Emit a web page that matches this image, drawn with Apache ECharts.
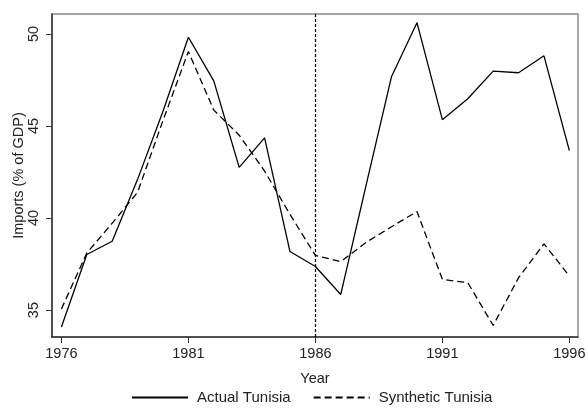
<!DOCTYPE html>
<html><head><meta charset="utf-8">
<script src="https://cdn.jsdelivr.net/npm/echarts@6/dist/echarts.min.js"></script>
<style>html,body{margin:0;padding:0;background:#fff}#c{width:588px;height:410px}</style>
</head><body><div id="c"></div>
<script>
const years = [1976,1977,1978,1979,1980,1981,1982,1983,1984,1985,1986,1987,1988,1989,1990,1991,1992,1993,1994,1995,1996];
const actual = [34.08,38.02,38.74,42.1,45.8,49.82,47.45,42.75,44.35,38.18,37.37,35.85,41.8,47.69,50.61,45.34,46.48,47.98,47.89,48.81,43.66];
const synthetic = [35.06,38.1,39.72,41.4,45.3,49.04,45.86,44.5,42.55,40.2,37.97,37.63,38.68,39.53,40.35,36.67,36.49,34.17,36.76,38.6,36.85];
const xTicks = [1976,1981,1986,1991,1996];
const yTicks = [35,40,45,50];
const treatYear = 1986;

const font = 'Liberation Sans, Arial, sans-serif';
const chart = echarts.init(document.getElementById('c'), null, {renderer:'canvas'});
chart.setOption({
  animation:false,
  backgroundColor:'#fff',
  grid:{left:52, right:10, top:14, bottom:73, show:true, borderColor:'#8a8a8a', borderWidth:1.5,
        containLabel:false, outerBoundsMode:'none'},
  legend:{
    left:126, top:385, itemWidth:56, itemHeight:14, itemGap:22,
    itemStyle:{opacity:0},
    textStyle:{fontFamily:font, fontSize:15, color:'#222', padding:[0,0,0,4]},
    data:['Actual Tunisia','Synthetic Tunisia']
  },
  xAxis:{
    type:'value', min:1975.63, max:1996.34,
    name:'Year', nameLocation:'middle', nameGap:34, nameMoveOverlap:false,
    nameTextStyle:{fontFamily:font, fontSize:14.5, color:'#222'},
    axisLine:{show:true, onZero:false, lineStyle:{color:'#333', width:1.5}},
    axisTick:{show:true, length:6, customValues:xTicks, lineStyle:{color:'#333'}},
    axisLabel:{customValues:xTicks, formatter:v=>String(v), fontFamily:font, fontSize:14.5, color:'#222', margin:9},
    splitLine:{show:false}
  },
  yAxis:{
    type:'value', min:33.54, max:51.08,
    name:'Imports (% of GDP)', nameLocation:'middle', nameGap:26, nameRotate:90, nameMoveOverlap:false,
    nameTextStyle:{fontFamily:font, fontSize:14.5, color:'#222'},
    axisLine:{show:true, onZero:false, lineStyle:{color:'#333', width:1.5}},
    axisTick:{show:true, length:6, customValues:yTicks, lineStyle:{color:'#333'}},
    axisLabel:{customValues:yTicks, formatter:v=>String(v), rotate:90, fontFamily:font, fontSize:14.5, color:'#222', margin:11},
    splitLine:{show:false}
  },
  series:[
    {name:'Actual Tunisia', type:'line', symbol:'none', data:years.map((y,i)=>[y,actual[i]]),
     lineStyle:{color:'#000', width:1.3, type:'solid'}, itemStyle:{color:'#000'},
     markLine:{silent:true, symbol:'none', label:{show:false},
       lineStyle:{color:'#000', width:1.2, type:[3,2]}, data:[{xAxis:treatYear}]}},
    {name:'Synthetic Tunisia', type:'line', symbol:'none', data:years.map((y,i)=>[y,synthetic[i]]),
     lineStyle:{color:'#000', width:1.3, type:[7,4]}, itemStyle:{color:'#000'}}
  ]
});
</script></body></html>
